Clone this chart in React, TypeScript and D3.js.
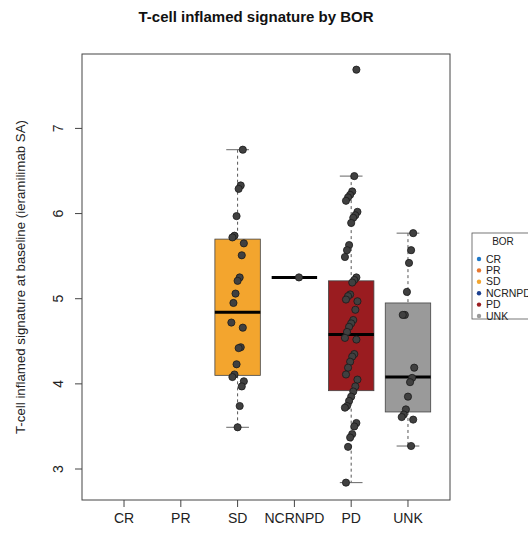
import React from 'react';
import * as d3 from 'd3';

const categories = ['CR', 'PR', 'SD', 'NCRNPD', 'PD', 'UNK'];
const yTicks = [3, 4, 5, 6, 7];

// points per group
const sdValues = [6.75, 6.33, 6.29, 5.97, 5.74, 5.72, 5.65, 5.51, 5.25, 5.21, 5.06, 4.95,
  4.72, 4.66, 4.43, 4.42, 4.23, 4.11, 4.08, 4.03, 3.97, 3.74, 3.49];
const ncrnpdValues = [5.25];
const pdValues = [7.69, 6.44, 6.26, 6.22, 6.19, 6.15, 6.02, 5.98, 5.95, 5.89, 5.63, 5.57, 5.49,
  5.25, 5.22, 5.19, 5.05, 5.03, 4.99, 4.97, 4.87, 4.75, 4.71, 4.67, 4.61, 4.54, 4.52, 4.35,
  4.32, 4.26, 4.19, 4.11, 4.05, 3.97, 3.91, 3.85, 3.80, 3.74, 3.72, 3.54, 3.50, 3.41, 3.37,
  3.26, 2.84];
const unkValues = [5.77, 5.57, 5.42, 5.08, 4.81, 4.81, 4.19, 4.07, 4.02, 3.85, 3.70, 3.64, 3.61,
  3.58, 3.27];

// box stats: [whisker low, q1, median, q3, whisker high]
const sdBox = [3.49, 4.10, 4.84, 5.70, 6.75];
const ncrnpdBox = [5.25, 5.25, 5.25, 5.25, 5.25];
const pdBox = [2.84, 3.92, 4.58, 5.21, 6.44];
const unkBox = [3.27, 3.67, 4.08, 4.95, 5.77];

const colors: Record<string, string> = {
  CR: '#1f78c8', PR: '#e8772e', SD: '#f3a52e', NCRNPD: '#1b3f8f', PD: '#9a1c20', UNK: '#9a9a9a',
};

const groups = [
  { name: 'SD', values: sdValues, box: sdBox },
  { name: 'NCRNPD', values: ncrnpdValues, box: ncrnpdBox },
  { name: 'PD', values: pdValues, box: pdBox },
  { name: 'UNK', values: unkValues, box: unkBox },
];

const W = 528, H = 536;
const left = 82, right = 450, top = 54, bottom = 500;

export default function App() {
  const x = d3.scaleLinear().domain([0.26, 6.74]).range([left, right]);
  const y = d3.scaleLinear().domain([2.636, 7.874]).range([bottom, top]);
  const step = x(2) - x(1);
  const bw = step * 0.8;
  const font = 'Liberation Sans, Arial, sans-serif';

  return (
    <svg width={W} height={H} style={{ position: 'absolute', left: 0, top: 0, background: '#fff' }} fontFamily={font}>
      <text x={256} y={22} textAnchor="middle" fontSize={15} fontWeight="bold" fill="#111">
        T-cell inflamed signature by BOR
      </text>

      {groups.map(g => {
        const cx = x(categories.indexOf(g.name) + 1);
        const [lo, q1, med, q3, hi] = g.box;
        return (
          <g key={g.name}>
            <line x1={cx} x2={cx} y1={y(hi)} y2={y(q3)} stroke="#555" strokeDasharray="3,3" />
            <line x1={cx} x2={cx} y1={y(q1)} y2={y(lo)} stroke="#555" strokeDasharray="3,3" />
            <line x1={cx - bw / 4} x2={cx + bw / 4} y1={y(hi)} y2={y(hi)} stroke="#666" />
            <line x1={cx - bw / 4} x2={cx + bw / 4} y1={y(lo)} y2={y(lo)} stroke="#666" />
            {q3 > q1 && (
              <rect x={cx - bw / 2} y={y(q3)} width={bw} height={y(q1) - y(q3)}
                fill={colors[g.name]} stroke="#444" strokeWidth={0.8} />
            )}
            <line x1={cx - bw / 2} x2={cx + bw / 2} y1={y(med)} y2={y(med)} stroke="#000" strokeWidth={3} />
          </g>
        );
      })}

      {groups.map(g => {
        const ci = categories.indexOf(g.name) + 1;
        return g.values.map((v, i) => {
          const j = g.values.length === 1 ? 0.08 : (((i * 37 + 11) % 13) - 6) / 6 * 0.11;
          return (
            <circle key={g.name + i} cx={x(ci + j)} cy={y(v)} r={3.6}
              fill="#404040" stroke="#1a1a1a" strokeWidth={0.8} />
          );
        });
      })}

      <rect x={left} y={top} width={right - left} height={bottom - top} fill="none" stroke="#444" />

      {yTicks.map(t => (
        <g key={t}>
          <line x1={left - 7} x2={left} y1={y(t)} y2={y(t)} stroke="#444" />
          <text transform={`translate(${left - 24},${y(t)}) rotate(-90)`} textAnchor="middle"
            fontSize={14} fill="#222" dy="0.35em">{t}</text>
        </g>
      ))}
      {categories.map((c, i) => (
        <g key={c}>
          <line x1={x(i + 1)} x2={x(i + 1)} y1={bottom} y2={bottom + 7} stroke="#444" />
          <text x={x(i + 1)} y={523} textAnchor="middle" fontSize={14} fill="#222">{c}</text>
        </g>
      ))}
      <text transform={`translate(25,${(top + bottom) / 2}) rotate(-90)`} textAnchor="middle"
        fontSize={13.3} fill="#222">T-cell inflamed signature at baseline (ieramilimab SA)</text>

      <g>
        <rect x={472} y={233} width={70} height={86} fill="#fff" stroke="#555" strokeWidth={0.8} />
        <text x={503} y={245} textAnchor="middle" fontSize={10} fill="#222">BOR</text>
        {categories.map((c, i) => (
          <g key={c}>
            <circle cx={479} cy={259 + i * 11.4} r={2.2} fill={colors[c]} />
            <text x={486} y={259 + i * 11.4} dy="0.35em" fontSize={10.5} fill="#222">{c}</text>
          </g>
        ))}
      </g>
    </svg>
  );
}
